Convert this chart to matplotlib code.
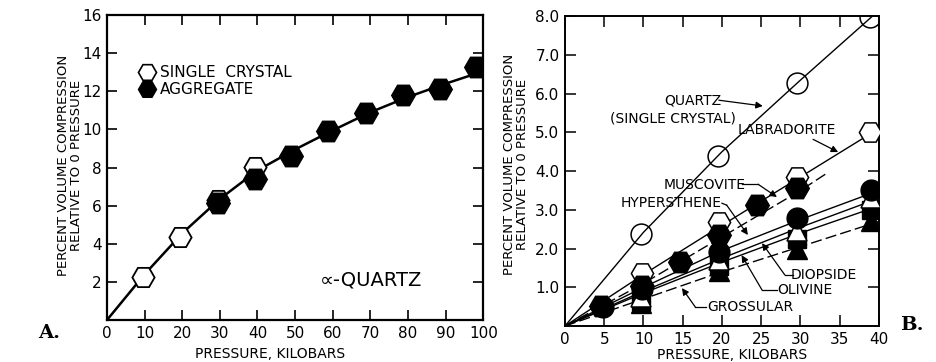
import matplotlib
matplotlib.use("Agg")
import matplotlib.pyplot as plt

plt.rcParams['font.family'] = ['DejaVu Sans']

# ---------------- Panel A: alpha-quartz ----------------
a_single_p = [9.6, 19.4, 29.5, 39.4]
a_single_v = [2.28, 4.36, 6.30, 8.05]
a_aggr_p = [29.6, 39.4, 48.9, 58.8, 68.9, 78.8, 88.6, 98.0]
a_aggr_v = [6.12, 7.40, 8.58, 9.89, 10.86, 11.78, 12.13, 13.25]
a_curve_p = [0, 10, 20, 30, 40, 50, 60, 70, 80, 90, 100]
a_curve_v = [0, 2.4, 4.55, 6.35, 7.85, 8.95, 9.95, 10.9, 11.7, 12.4, 13.05]
a_xticks = [0, 10, 20, 30, 40, 50, 60, 70, 80, 90, 100]
a_yticks = [2, 4, 6, 8, 10, 12, 14, 16]

# ---------------- Panel B: minerals ----------------
b_curve_p = [0, 10, 20, 30, 40]
quartz_p = [9.7, 19.5, 29.5, 38.9]
quartz_v = [2.37, 4.40, 6.27, 7.97]
quartz_curve = [0, 2.42, 4.5, 6.35, 8.15]

labr_p = [9.8, 19.6, 29.6, 38.9]
labr_v = [1.38, 2.68, 3.84, 5.02]
labr_curve = [0, 1.33, 2.6, 3.85, 5.1]

musc_p = [4.6, 9.8, 14.6, 19.6, 24.5, 29.5]
musc_v = [0.52, 1.04, 1.66, 2.35, 3.13, 3.56]
musc_curve_p = [0, 10, 20, 30, 33.4]
musc_curve = [0, 1.1, 2.3, 3.5, 3.95]

hyp_p = [4.8, 9.8, 19.6, 29.5, 39.0]
hyp_v = [0.5, 0.95, 1.9, 2.78, 3.5]
hyp_curve = [0, 1.0, 1.95, 2.75, 3.5]

diop_p = [9.7, 19.6, 29.5, 39.0]
diop_v = [0.75, 1.7, 2.45, 3.3]
diop_curve = [0, 0.9, 1.75, 2.55, 3.3]

oliv_p = [9.7, 19.6, 29.5, 39.0]
oliv_v = [0.65, 1.55, 2.25, 3.0]
oliv_curve = [0, 0.85, 1.65, 2.4, 3.1]

gros_p = [9.7, 19.6, 29.5, 39.0]
gros_v = [0.6, 1.42, 1.98, 2.7]
gros_curve = [0, 0.7, 1.4, 2.05, 2.7]

b_xticks = [0, 5, 10, 15, 20, 25, 30, 35, 40]
b_yticks = [1, 2, 3, 4, 5, 6, 7, 8]

fig = plt.figure(figsize=(9.36, 3.62), dpi=100)
axA = fig.add_axes([0.1143, 0.116, 0.402, 0.8425])
axB = fig.add_axes([0.6036, 0.0994, 0.3355, 0.856])

tick_font = 11
label_font = 9.5

# ---- Panel A ----
axA.plot(a_curve_p, a_curve_v, color='black', lw=1.8, zorder=2)
axA.plot(a_single_p, a_single_v, ls='none', marker='H', ms=16,
         mfc='white', mec='black', mew=1.3, zorder=3)
axA.plot(a_aggr_p, a_aggr_v, ls='none', marker='H', ms=17,
         mfc='black', mec='black', zorder=4)
axA.set_xlim(0, 100)
axA.set_ylim(0, 16)
axA.set_xticks(a_xticks)
axA.set_xticklabels([str(t) for t in a_xticks], fontsize=tick_font)
axA.set_yticks(a_yticks)
axA.set_yticklabels([str(t) for t in a_yticks], fontsize=tick_font)
axA.tick_params(direction='in', length=7, width=1.2, top=True, right=True, pad=4)
for s in axA.spines.values():
    s.set_linewidth(1.6)

# legend drawn by hand
axA.plot([10.6], [13.0], ls='none', marker='H', ms=13, mfc='white',
         mec='black', mew=1.2)
axA.plot([10.6], [12.1], ls='none', marker='H', ms=13, mfc='black', mec='black')
axA.text(14.0, 13.0, 'SINGLE  CRYSTAL', fontsize=11, va='center', ha='left')
axA.text(14.0, 12.1, 'AGGREGATE', fontsize=11, va='center', ha='left')
axA.text(70.2, 2.1, '∝-QUARTZ', fontsize=14, va='center', ha='center')

axA.text(-0.098, 0.508, 'PERCENT VOLUME COMPRESSION\nRELATIVE TO 0 PRESSURE',
         transform=axA.transAxes, rotation=90, ha='center', va='center',
         fontsize=label_font, linespacing=1.05)
axA.text(0.434, -0.087, 'PRESSURE, KILOBARS', transform=axA.transAxes,
         ha='center', va='top', fontsize=10)

# ---- Panel B ----
lw = 1.0
axB.plot(b_curve_p, quartz_curve, color='black', lw=lw, zorder=2)
axB.plot(b_curve_p, labr_curve, color='black', lw=lw, zorder=2)
axB.plot(musc_curve_p, musc_curve, color='black', lw=lw, ls=(0, (8, 3)), zorder=2)
axB.plot(b_curve_p, hyp_curve, color='black', lw=lw, zorder=2)
axB.plot(b_curve_p, diop_curve, color='black', lw=lw, zorder=2)
axB.plot(b_curve_p, oliv_curve, color='black', lw=lw, zorder=2)
axB.plot(b_curve_p, gros_curve, color='black', lw=lw, ls=(0, (8, 3)), zorder=2)

ms = 15
axB.plot(quartz_p, quartz_v, ls='none', marker='o', ms=ms, mfc='none',
         mec='black', mew=1.1, zorder=3)
axB.plot(gros_p, gros_v, ls='none', marker='^', ms=ms, mfc='black',
         mec='black', zorder=3)
axB.plot(oliv_p, oliv_v, ls='none', marker='s', ms=13, mfc='black',
         mec='black', zorder=3)
axB.plot(diop_p, diop_v, ls='none', marker='^', ms=ms, mfc='white',
         mec='black', mew=1.1, zorder=4)
axB.plot(hyp_p, hyp_v, ls='none', marker='o', ms=ms, mfc='black',
         mec='black', zorder=5)
axB.plot(labr_p, labr_v, ls='none', marker='H', ms=16, mfc='white',
         mec='black', mew=1.1, zorder=5)
axB.plot(musc_p, musc_v, ls='none', marker='H', ms=17, mfc='black',
         mec='black', zorder=6)

axB.set_xlim(0, 40)
axB.set_ylim(0, 8)
axB.set_xticks(b_xticks)
axB.set_xticklabels([str(t) for t in b_xticks], fontsize=tick_font)
axB.set_yticks(b_yticks)
axB.set_yticklabels([f'{t:.1f}' for t in b_yticks], fontsize=tick_font)
axB.tick_params(direction='in', length=8, width=1.1, top=True, right=True, pad=4)
for s in axB.spines.values():
    s.set_linewidth(1.4)

txt = dict(fontsize=10, ha='center', va='center')
arw = dict(arrowstyle='-|>', color='black', lw=0.9, mutation_scale=10,
           shrinkA=0, shrinkB=0)

axB.text(16.3, 5.83, 'QUARTZ', **txt)
axB.text(13.76, 5.37, '(SINGLE CRYSTAL)', **txt)
axB.annotate('', xy=(25.2, 5.68), xytext=(19.6, 5.83), arrowprops=arw)

axB.text(28.3, 5.06, 'LABRADORITE', **txt)
axB.annotate('', xy=(34.8, 4.49), xytext=(31.6, 4.82), arrowprops=arw)

axB.text(17.8, 3.65, 'MUSCOVITE', **txt)
axB.plot([22.6, 24.6], [3.66, 3.66], color='black', lw=0.9)
axB.annotate('', xy=(27.0, 3.33), xytext=(24.6, 3.66), arrowprops=arw)

axB.text(13.5, 3.17, 'HYPERSTHENE', **txt)
axB.plot([20.0, 20.6], [3.17, 3.12], color='black', lw=0.9)
axB.annotate('', xy=(23.3, 2.35), xytext=(20.6, 3.12), arrowprops=arw)

axB.text(33.0, 1.32, 'DIOPSIDE', **txt)
axB.plot([29.0, 28.0], [1.32, 1.32], color='black', lw=0.9)
axB.annotate('', xy=(25.1, 2.14), xytext=(28.0, 1.32), arrowprops=arw)

axB.text(30.5, 0.93, 'OLIVINE', **txt)
axB.plot([27.0, 25.1], [0.93, 0.93], color='black', lw=0.9)
axB.annotate('', xy=(22.5, 1.83), xytext=(25.1, 0.93), arrowprops=arw)

axB.text(23.6, 0.49, 'GROSSULAR', **txt)
axB.plot([18.0, 16.6], [0.49, 0.49], color='black', lw=0.9)
axB.annotate('', xy=(14.9, 0.98), xytext=(16.6, 0.49), arrowprops=arw)

axB.text(-0.156, 0.52, 'PERCENT VOLUME COMPRESSION\nRELATIVE TO 0 PRESSURE',
         transform=axB.transAxes, rotation=90, ha='center', va='center',
         fontsize=label_font, linespacing=1.05)
axB.text(0.532, -0.071, 'PRESSURE, KILOBARS', transform=axB.transAxes,
         ha='center', va='top', fontsize=10)

# panel letters
fig.text(0.053, 0.08, 'A.', fontsize=14, fontweight='bold',
         family='DejaVu Serif', ha='center', va='center')
fig.text(0.974, 0.102, 'B.', fontsize=14, fontweight='bold',
         family='DejaVu Serif', ha='center', va='center')

fig.savefig('out.png', dpi=100)
